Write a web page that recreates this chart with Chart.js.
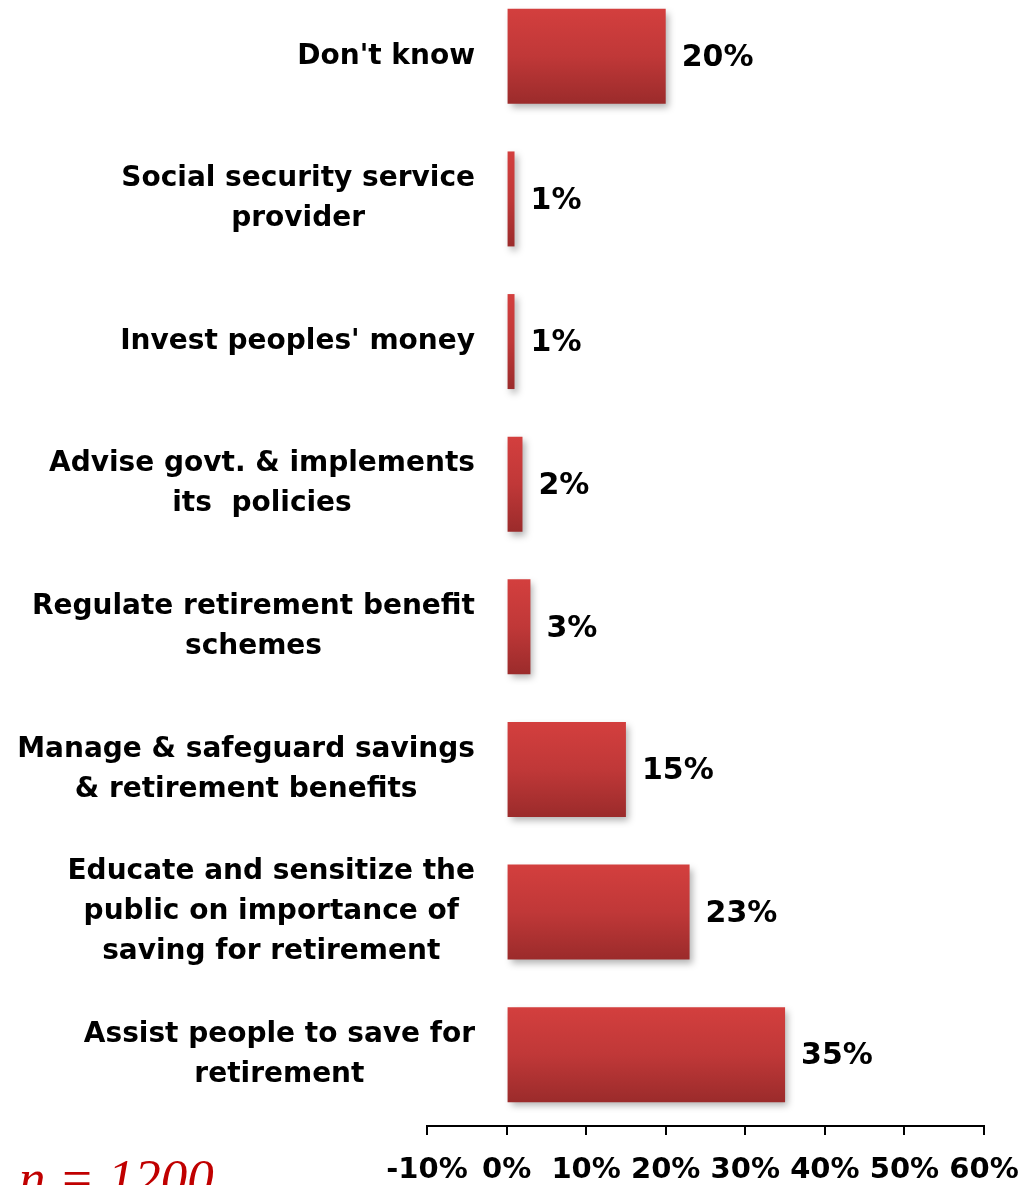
<!DOCTYPE html>
<html>
<head>
<meta charset="utf-8">
<script src="https://cdn.jsdelivr.net/npm/chart.js@4"></script>
<style>
  html, body { margin: 0; padding: 0; background: #fff; }
  #wrap { position: relative; width: 1018px; height: 1185px; overflow: hidden; }
  #roleChart { position: absolute; left: 0; top: -15px; }
  #sample { position: absolute; left: 19px; top: 1148px; color: #c00000;
            font: italic 400 53px "Liberation Serif", serif; white-space: nowrap; }
</style>
</head>
<body>
<div id="wrap">
  <canvas id="roleChart" width="1060" height="1200"></canvas>
  <div id="sample">n = 1200</div>
</div>
<script>
// categories, top to bottom (each entry = lines of the label)
const categories = [
    ["Don't know"],
    ["Social security service", "provider"],
    ["Invest peoples' money"],
    ["Advise govt. & implements", "its  policies"],
    ["Regulate retirement benefit", "schemes"],
    ["Manage & safeguard savings", "& retirement benefits"],
    ["Educate and sensitize the", "public on importance of", "saving for retirement"],
    ["Assist people to save for", "retirement"]
];
const shares = [20, 1, 1, 2, 3, 15, 23, 35];   // percent
const xTicks = [-10, 0, 10, 20, 30, 40, 50, 60];

const LABEL_FONT = 'bold 28px "DejaVu Sans", sans-serif';
const VALUE_FONT = 'bold 30px "DejaVu Sans", sans-serif';

document.addEventListener('DOMContentLoaded', () => {
    const ctx = document.getElementById('roleChart').getContext('2d');

    function barGradient(context) {
        const chart = context.chart;
        const y = chart.scales && chart.scales.y;
        if (!chart.chartArea || !y) return '#b83434';
        const c = y.getPixelForValue(context.dataIndex);
        const step = y.getPixelForValue(1) - y.getPixelForValue(0);
        const h = step * 0.666 / 2;
        const g = chart.ctx.createLinearGradient(0, c - h, 0, c + h);
        g.addColorStop(0, '#d33f3e');
        g.addColorStop(0.5, '#c03838');
        g.addColorStop(1, '#9b2b2b');
        return g;
    }

    // drop shadow under the bars
    const barShadow = {
        id: 'barShadow',
        beforeDatasetsDraw(chart) {
            const c = chart.ctx;
            c.save();
            c.shadowColor = 'rgba(0,0,0,0.3)';
            c.shadowBlur = 7;
            c.shadowOffsetX = 3;
            c.shadowOffsetY = 4;
        },
        afterDatasetsDraw(chart) {
            chart.ctx.restore();
        }
    };

    // category labels: block right-aligned, lines centered inside the block
    const sideLabels = {
        id: 'sideLabels',
        afterDraw(chart) {
            const c = chart.ctx;
            const y = chart.scales.y;
            const right = 475;
            const lineH = 40;
            c.save();
            c.font = LABEL_FONT;
            c.fillStyle = '#000';
            c.textAlign = 'center';
            c.textBaseline = 'middle';
            categories.forEach((lines, i) => {
                const w = Math.max(...lines.map(l => c.measureText(l).width));
                const cx = right - w / 2;
                const cy = y.getPixelForValue(i);
                const top = cy - (lines.length - 1) * lineH / 2;
                lines.forEach((l, k) => c.fillText(l, cx, top + k * lineH));
            });
            c.restore();
        }
    };

    // value labels right of each bar
    const valueLabels = {
        id: 'valueLabels',
        afterDatasetsDraw(chart) {
            const c = chart.ctx;
            const meta = chart.getDatasetMeta(0);
            c.save();
            c.font = VALUE_FONT;
            c.fillStyle = '#000';
            c.textAlign = 'left';
            c.textBaseline = 'middle';
            meta.data.forEach((bar, i) => {
                c.fillText(shares[i] + '%', bar.x + 16, bar.y + 2);
            });
            c.restore();
        }
    };

    new Chart(ctx, {
        type: 'bar',
        data: {
            labels: categories,
            datasets: [{
                data: shares,
                backgroundColor: barGradient,
                borderWidth: 0,
                barPercentage: 0.666,
                categoryPercentage: 1
            }]
        },
        options: {
            indexAxis: 'y',
            responsive: false,
            animation: false,
            devicePixelRatio: 1,
            layout: { padding: { left: 427, right: 76, top: 0, bottom: 0 } },
            scales: {
                x: {
                    min: -10,
                    max: 60,
                    afterBuildTicks: (scale) => {
                        scale.ticks = xTicks.map(v => ({ value: v }));
                    },
                    afterFit: (scale) => { scale.height = 59; },
                    grid: {
                        drawOnChartArea: false,
                        drawTicks: true,
                        tickLength: 9,
                        color: '#000',
                        lineWidth: 2
                    },
                    border: { display: true, color: '#000', width: 2 },
                    ticks: {
                        color: '#000',
                        padding: 18,
                        maxRotation: 0,
                        autoSkip: false,
                        font: { family: '"DejaVu Sans", sans-serif', size: 29, weight: 'bold' },
                        callback: (v) => v + '%'
                    }
                },
                y: {
                    display: false
                }
            },
            plugins: {
                legend: { display: false },
                tooltip: { enabled: false }
            }
        },
        plugins: [barShadow, valueLabels, sideLabels]
    });
});
</script>
</body>
</html>
